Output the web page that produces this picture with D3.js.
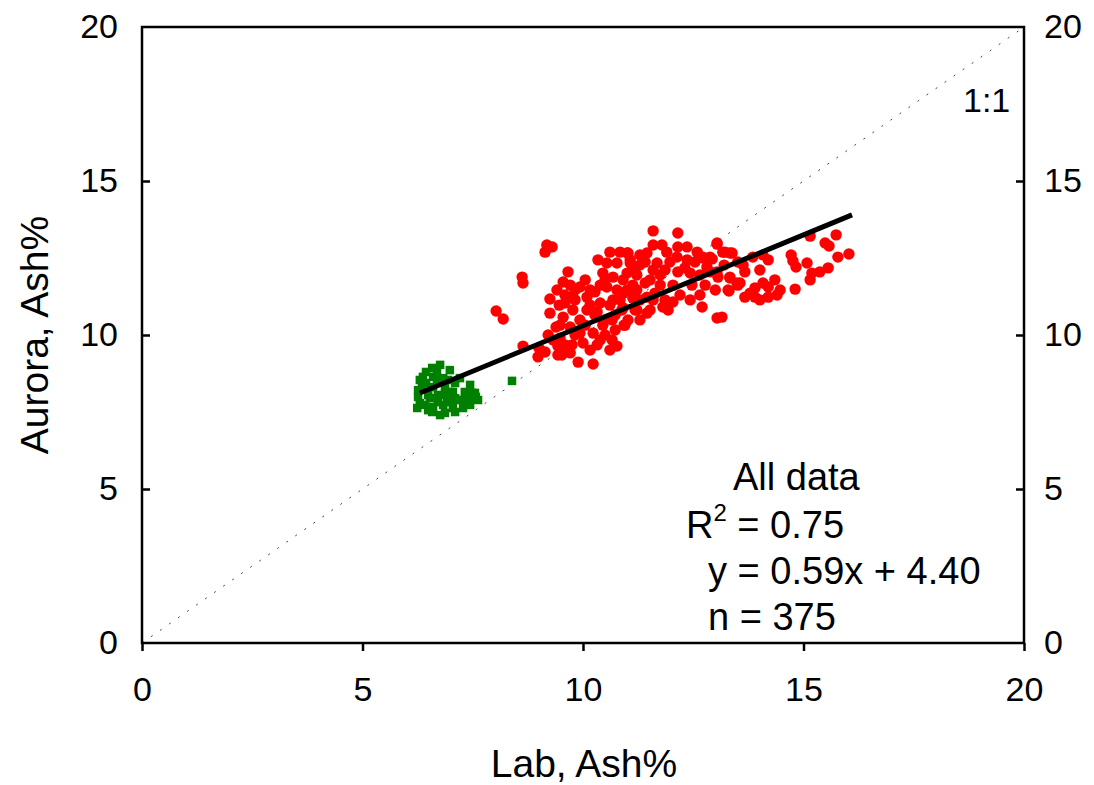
<!DOCTYPE html>
<html><head><meta charset="utf-8">
<script src="https://cdn.jsdelivr.net/npm/d3@7"></script>
<style>
html,body{margin:0;padding:0;background:#fff;}
svg text{font-family:"Liberation Sans",Arial,sans-serif;fill:#000;}
</style></head>
<body>
<svg id="chart" width="1094" height="785"></svg>
<script>
// ---- data (Lab ash %, Aurora ash %) ----
const redLab = [8.03,8.19,8.62,8.64,9.18,9.30,9.14,9.66,9.55,9.41,9.93,9.25,9.46,9.66,9.25,9.39,9.21,9.00,8.98,9.14,8.64,9.43,9.43,9.71,9.89,10.23,10.77,10.93,9.77,10.09,10.39,10.50,10.23,9.93,9.71,9.55,9.93,10.09,10.00,9.75,10.34,10.61,10.84,11.02,10.54,10.77,11.07,11.13,10.45,10.68,10.91,10.54,10.77,11.00,10.68,10.88,11.18,11.22,11.59,12.15,13.04,11.59,11.79,12.15,12.36,12.59,12.72,12.88,13.17,13.33,11.00,11.29,11.45,11.90,12.13,12.36,11.07,11.41,11.68,11.00,11.22,11.59,11.86,12.15,12.43,12.65,12.88,13.06,13.33,13.49,11.13,11.41,11.75,12.04,12.47,10.91,11.13,11.45,11.59,11.86,12.04,11.81,11.93,11.22,11.45,10.91,12.70,13.29,13.51,13.04,13.15,10.95,15.15,15.74,15.49,15.58,16.03,15.78,13.04,13.22,13.38,13.85,14.08,14.20,14.72,14.76,14.83,15.08,12.72,12.93,12.81,13.04,13.51,13.63,13.33,13.56,13.31,14.08,14.20,13.90,13.79,13.67,13.90,14.20,14.40,14.81,15.19,15.37,15.56,15.15,10.16,10.27,10.50,10.66,9.48,10.32,10.73,10.39,9.82,9.59,
  9.59,9.82,10.16,10.32,10.61,10.73,10.05,9.82,9.59,10.16,10.39,10.61,9.48,9.32,10.45,10.84,10.27,10.50,9.71,10.05,10.66,9.52,
  11.29,11.52,11.75,12.31,12.54,11.97,11.63,12.20,12.43,11.29,11.02,11.29,11.52,12.77,13.00,13.20,13.67,14.01,14.35,14.47,14.01,12.65];
const redAurora = [10.78,10.52,11.88,11.69,12.92,12.86,12.69,12.05,11.72,11.46,11.56,11.17,10.97,11.23,10.71,10.26,10.00,9.58,9.29,9.45,9.64,9.64,9.35,9.42,9.12,9.06,9.64,10.32,10.81,11.23,11.04,10.49,10.06,10.06,10.26,10.58,10.49,10.81,9.74,9.68,12.44,12.69,12.69,12.66,12.34,12.34,12.44,12.11,12.01,11.88,11.79,11.56,11.46,11.46,11.14,10.81,10.81,11.46,13.38,13.31,12.99,12.92,12.92,12.86,12.86,12.69,12.50,12.53,12.69,12.66,12.66,12.60,12.66,12.69,12.53,12.44,12.34,12.37,12.34,12.01,11.95,12.11,12.11,12.05,12.01,11.95,12.05,11.88,11.85,11.69,11.62,11.69,11.62,11.62,11.62,11.36,11.20,11.23,11.14,11.14,11.07,10.91,10.81,10.81,10.71,10.88,10.91,11.46,11.62,10.55,10.58,10.32,13.21,13.25,12.99,12.89,12.63,12.53,12.95,12.69,12.66,12.53,12.60,12.44,12.60,12.40,12.21,12.34,12.53,12.47,12.21,12.05,12.37,12.27,11.88,11.69,11.43,11.69,11.56,11.53,11.36,11.23,11.23,11.23,11.30,11.49,12.01,12.05,12.18,11.79,11.46,10.65,10.00,10.49,9.90,9.68,10.16,11.62,11.46,11.04,
  11.30,11.14,10.97,10.75,10.97,10.65,10.32,10.00,9.68,9.51,9.84,9.51,10.32,9.84,10.32,11.14,11.40,11.79,11.62,11.79,9.84,9.35,
  12.27,11.79,11.95,12.18,12.37,12.37,11.36,11.30,11.14,11.14,10.49,10.49,10.81,11.62,11.46,12.27,12.05,12.11,11.79,11.46,11.14,11.30];
const greenLab = [6.76,6.58,6.98,6.37,6.60,6.83,7.21,6.35,6.60,6.87,7.05,7.32,7.55,6.26,6.49,6.71,6.92,7.17,7.39,7.62,6.24,6.42,6.60,6.83,7.05,7.28,6.58,6.87,6.30,8.39,6.69,7.10,7.44,6.44,6.98,
  6.26,6.44,6.69,6.94,7.10,7.32,7.48,6.71,6.49,7.10,6.76,6.53,6.98,6.30,7.44,6.83,7.57];
const greenAurora = [9.03,8.93,8.86,8.64,8.64,8.60,8.60,8.31,8.31,8.31,8.15,8.15,8.12,7.99,8.05,8.05,7.95,7.89,7.89,7.89,7.63,7.73,7.66,7.73,7.63,7.63,7.50,7.47,7.79,8.51,8.80,8.44,8.38,8.44,7.82,
  8.21,8.80,8.54,8.54,7.95,7.89,8.12,7.82,7.56,7.50,7.40,7.95,8.15,8.54,7.73,8.05,7.99];
const xTicks = [0,5,10,15,20];
const yTicks = [0,5,10,15,20];
const fitSlope = 0.59, fitIntercept = 4.40;
const fitRange = [6.3, 16.1];
const statsLines = ["All data", "R", " = 0.75", "y = 0.59x + 4.40", "n = 375"];

// ---- layout ----
const svg = d3.select("#chart");
const pL = 142, pR = 1024, pT = 27, pB = 643;
const x = d3.scaleLinear().domain([0,20]).range([pL,pR]);
const y = d3.scaleLinear().domain([0,20]).range([pB,pT]);
const FS = 34, FT = 39, FA = 38;

// 1:1 dotted line
svg.append("line")
  .attr("x1", x(0)).attr("y1", y(0)).attr("x2", x(20)).attr("y2", y(20))
  .attr("stroke", "#444").attr("stroke-width", 1).attr("stroke-dasharray", "2,9");

// red points
const red = redLab.map((d,i)=>[d, redAurora[i]]);
svg.append("g").selectAll("circle").data(red).join("circle")
  .attr("cx", d=>x(d[0])).attr("cy", d=>y(d[1])).attr("r", 5.7).attr("fill", "#ff0000");

// green squares
const green = greenLab.map((d,i)=>[d, greenAurora[i]]);
const sq = 8.5;
svg.append("g").selectAll("rect").data(green).join("rect")
  .attr("x", d=>x(d[0])-sq/2).attr("y", d=>y(d[1])-sq/2).attr("width", sq).attr("height", sq).attr("fill", "#008000");

// regression line
svg.append("line")
  .attr("x1", x(fitRange[0])).attr("y1", y(fitSlope*fitRange[0]+fitIntercept))
  .attr("x2", x(fitRange[1])).attr("y2", y(fitSlope*fitRange[1]+fitIntercept))
  .attr("stroke", "#000").attr("stroke-width", 5);

// axes
function styleAxis(g){
  g.select(".domain").remove();
  g.selectAll(".tick line").attr("stroke","#000").attr("stroke-width",2.5);
  g.selectAll(".tick text").attr("font-size", FS).attr("font-family","Liberation Sans, Arial, sans-serif").attr("fill","#000");
}
svg.append("g").attr("transform",`translate(0,${pB})`)
  .call(d3.axisBottom(x).tickValues(xTicks).tickFormat(d3.format("d")).tickSize(8).tickPadding(26))
  .call(styleAxis);
svg.append("g").attr("transform",`translate(${pL},0)`)
  .call(d3.axisLeft(y).tickValues(yTicks.slice(1,4)).tickFormat(d3.format("d")).tickSize(-8).tickPadding(24))
  .call(styleAxis);
svg.append("g").attr("transform",`translate(${pL},0)`)
  .call(d3.axisLeft(y).tickValues([0,20]).tickFormat(d3.format("d")).tickSize(0).tickPadding(24))
  .call(styleAxis);
svg.append("g").attr("transform",`translate(${pR},0)`)
  .call(d3.axisRight(y).tickValues(yTicks.slice(1,4)).tickFormat(d3.format("d")).tickSize(-8).tickPadding(20))
  .call(styleAxis);
svg.append("g").attr("transform",`translate(${pR},0)`)
  .call(d3.axisRight(y).tickValues([0,20]).tickFormat(d3.format("d")).tickSize(0).tickPadding(20))
  .call(styleAxis);

// frame
svg.append("rect").attr("x",pL).attr("y",pT).attr("width",pR-pL).attr("height",pB-pT)
  .attr("fill","none").attr("stroke","#000").attr("stroke-width",2.5);

// titles
svg.append("text").attr("x",584).attr("y",777).attr("text-anchor","middle")
  .attr("font-size",FT).text("Lab, Ash%");
svg.append("text").attr("transform",`translate(48,${335}) rotate(-90)`).attr("text-anchor","middle")
  .attr("font-size",FT).text("Aurora, Ash%");

// 1:1 label
svg.append("text").attr("x",963).attr("y",112).attr("font-size",FS).text("1:1");

// stats block
svg.append("text").attr("x",733).attr("y",490).attr("font-size",FA).text(statsLines[0]);
const r2 = svg.append("text").attr("x",686).attr("y",538).attr("font-size",FA);
r2.append("tspan").text(statsLines[1]);
r2.append("tspan").attr("dy",-17).attr("font-size",24).text("2");
r2.append("tspan").attr("dy",17).text(statsLines[2]);
svg.append("text").attr("x",708).attr("y",584).attr("font-size",FA).text(statsLines[3]);
svg.append("text").attr("x",708).attr("y",630).attr("font-size",FA).text(statsLines[4]);
</script>
</body></html>
